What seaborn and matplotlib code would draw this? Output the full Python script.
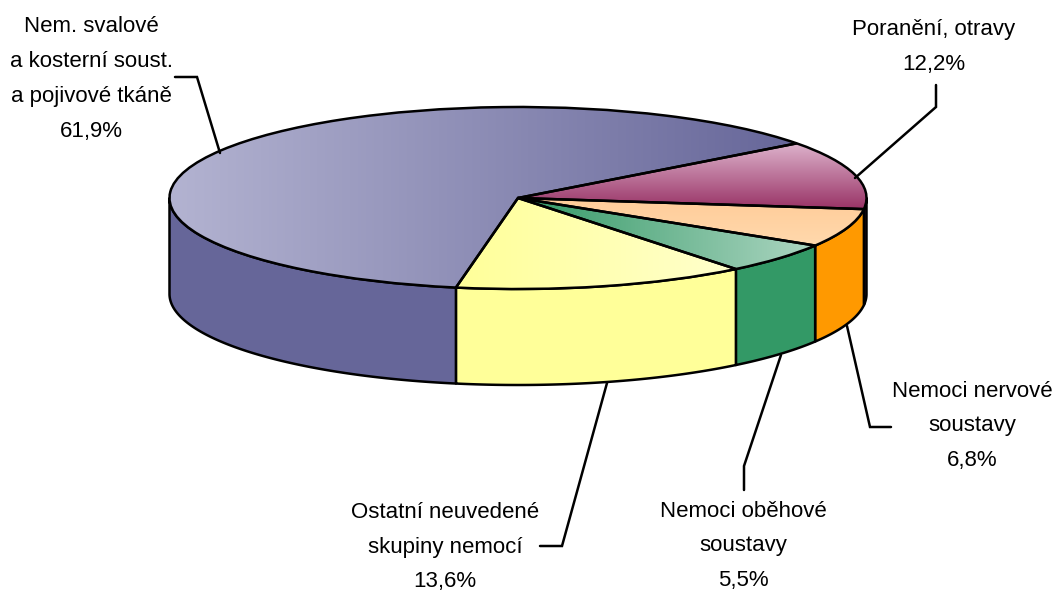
import numpy as np
import matplotlib
matplotlib.use("Agg")
import matplotlib.pyplot as plt
from matplotlib.colors import LinearSegmentedColormap
from matplotlib.lines import Line2D
from matplotlib.patches import Polygon
import seaborn as sns

categories = ["Poranění, otravy", "Nemoci nervové\nsoustavy", "Nemoci oběhové\nsoustavy",
              "Ostatní neuvedené\nskupiny nemocí", "Nem. svalové\na kosterní soust.\na pojivové tkáně"]
shares = [12.2, 6.8, 5.5, 13.6, 61.9]
share_labels = ["12,2%", "6,8%", "5,5%", "13,6%", "61,9%"]
wall_colors = ["#993366", "#FF9900", "#339966", "#FFFF99", "#666699"]
top_gradients = [("#DDB3CC", "#993366", "v"), ("#FFCC99", "#FFD9AD", "v"), ("#339966", "#ADD6C2", "h"),
                 ("#FFFF99", "#FFFFCC", "h"), ("#B3B3D1", "#666699", "h")]

W, H = 1053, 592
CX, CY, RX, RY, DEPTH = 518, 198, 348.5, 91, 96
LW = 1.8

sns.set_theme(style="white")
plt.rcParams["font.family"] = ["Liberation Sans", "DejaVu Sans"]

fig = plt.figure(figsize=(W / 100, H / 100), dpi=100, facecolor="white")
ax = fig.add_axes([0, 0, 1, 1])

wedges, _ = ax.pie(shares, startangle=36.9, counterclock=False, radius=1, center=(0, 0),
                   colors=wall_colors, wedgeprops=dict(edgecolor="black", linewidth=LW, zorder=4))
ax.set_aspect("auto")
depth = DEPTH / RY

for wedge, wall, grad in zip(wedges, wall_colors, top_gradients):
    t1, t2 = wedge.theta1, wedge.theta2
    arc = np.radians(np.linspace(t1, t2, 300))
    xs = np.append(np.cos(arc), 0)
    ys = np.append(np.sin(arc), 0)
    ramp = np.linspace(0, 1, 256)
    cmap = LinearSegmentedColormap.from_list("g", [grad[0], grad[1]])
    if grad[2] == "h":
        img = ramp[None, :]
        origin = "lower"
    else:
        img = ramp[:, None]
        origin = "upper"
    im = ax.imshow(img, cmap=cmap, aspect="auto", origin=origin, zorder=3,
                   extent=(xs.min(), xs.max(), ys.min(), ys.max()))
    im.set_clip_path(wedge)
    wedge.set_facecolor("none")

    # side wall: the part of the outer rim on the near half of the ellipse
    a, b = max(t1, -180), min(t2, 0)
    if a < b:
        th = np.radians(np.linspace(a, b, 200))
        top = np.column_stack([np.cos(th), np.sin(th)])
        bot = top[::-1] - [0, depth]
        ax.add_patch(Polygon(np.vstack([top, bot]), closed=True, facecolor=wall,
                             edgecolor="black", linewidth=LW, joinstyle="round", zorder=2))

ax.set_xlim(-CX / RX, (W - CX) / RX)
ax.set_ylim((CY - H) / RY, CY / RY)
ax.axis("off")


def fx(px):
    return px / W


def fy(py):
    return 1 - py / H


leaders = [
    [(936, 85), (936, 107), (855, 178)],
    [(891, 427), (870, 427), (847, 326)],
    [(744, 490), (744, 466), (781, 355)],
    [(540, 546), (562, 546), (607, 383)],
    [(175, 77), (197, 77), (220, 153)],
]
label_pos = [(934, 47), (972, 426), (743, 546), (445, 547), (91, 79)]

for cat, val, (lx, ly), pts in zip(categories, share_labels, label_pos, leaders):
    fig.text(fx(lx), fy(ly), f"{cat}\n{val}", ha="center", va="center", ma="center",
             fontsize=16, color="black", linespacing=1.87)
    fig.add_artist(Line2D([fx(p[0]) for p in pts], [fy(p[1]) for p in pts],
                          color="black", linewidth=LW, solid_joinstyle="miter"))

fig.savefig("out.png", dpi=100, facecolor="white")
